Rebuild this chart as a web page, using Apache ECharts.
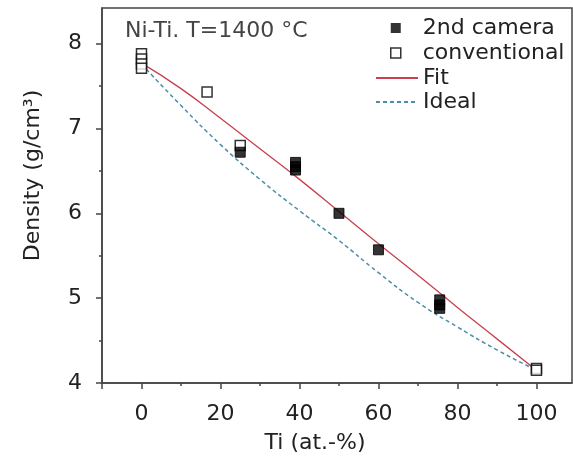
<!DOCTYPE html>
<html><head><meta charset="utf-8">
<script src="https://cdn.jsdelivr.net/npm/echarts@6/dist/echarts.min.js"></script>
<style>html,body{margin:0;padding:0;background:#fff}#c{width:573px;height:463px}</style>
</head><body><div id="c"></div>
<script>
const xTickLabels = [0, 20, 40, 60, 80, 100];
const xMajorTicks = [-10, 0, 20, 40, 60, 80, 100];
const xMinorTicks = [10, 30, 50, 70, 90];
const yTickLabels = [4, 5, 6, 7, 8];
const yMinorTicks = [4.5, 5.5, 6.5, 7.5];

const cameraTi      = [25, 39, 39, 39, 50, 60, 75.5, 75.5, 75.5];
const cameraDensity = [6.72, 6.60, 6.55, 6.51, 6.00, 5.57, 4.98, 4.92, 4.88];

const convTi      = [0, 0, 0, 0, 16.6, 25, 100, 100];
const convDensity = [7.88, 7.82, 7.76, 7.71, 7.43, 6.80, 4.17, 4.15];

const lineTi       = [0, 10, 20, 30, 40, 50, 60, 70, 80, 90, 100];
const fitDensity   = [7.77, 7.47, 7.12, 6.76, 6.40, 6.02, 5.64, 5.27, 4.89, 4.52, 4.15];
const idealDensity = [7.76, 7.27, 6.81, 6.40, 6.03, 5.68, 5.30, 4.95, 4.66, 4.39, 4.15];

const FONT = 'DejaVu Sans';
const pairs = (xs, ys) => xs.map((x, i) => [x, ys[i]]);

const chart = echarts.init(document.getElementById('c'));
chart.setOption({
  animation: false,
  backgroundColor: '#fff',
  title: {
    text: 'Ni-Ti. T=1400 °C',
    left: 120, top: 15,
    textStyle: { fontFamily: FONT, fontSize: 22, fontWeight: 'normal', color: '#444' }
  },
  legend: [{
    data: [
      { name: '2nd camera', itemStyle: { color: '#000', borderColor: '#000', borderWidth: 0 } },
      { name: 'conventional', itemStyle: { color: '#fff', borderColor: '#000', borderWidth: 1.5 } }
    ],
    orient: 'vertical', left: 390, top: 17, padding: 0,
    itemWidth: 10, itemHeight: 10, itemGap: 3,
    textStyle: { fontFamily: FONT, fontSize: 22, color: '#222', lineHeight: 22, padding: [0, 0, 0, 17] }
  }, {
    data: [
      { name: 'Fit', itemStyle: { opacity: 0 } },
      { name: 'Ideal', itemStyle: { opacity: 0 } }
    ],
    orient: 'vertical', left: 375, top: 67, padding: 0,
    itemWidth: 42, itemHeight: 10, itemGap: 2,
    textStyle: { fontFamily: FONT, fontSize: 22, color: '#222', lineHeight: 22 }
  }],
  grid: { left: 102, right: 1, top: 8, bottom: 80, show: true, borderColor: '#444', borderWidth: 1.5 },
  xAxis: [{
    type: 'value', min: -10, max: 109,
    name: 'Ti (at.-%)', nameLocation: 'middle', nameGap: 49,
    nameTextStyle: { fontFamily: FONT, fontSize: 22, color: '#222', padding: [0, 44, 0, 0] },
    axisLine: { onZero: false, lineStyle: { color: '#444', width: 1.5 } },
    axisTick: { customValues: xMajorTicks, length: 6, lineStyle: { color: '#444', width: 1.5 } },
    axisLabel: { customValues: xTickLabels, margin: 20, fontFamily: FONT, fontSize: 22, color: '#222' },
    splitLine: { show: false }
  }, {
    type: 'value', min: -10, max: 109, position: 'bottom',
    axisLine: { show: false, onZero: false },
    axisTick: { customValues: xMinorTicks, length: 3, lineStyle: { color: '#444', width: 1.5 } },
    axisLabel: { show: false },
    splitLine: { show: false }
  }],
  yAxis: [{
    type: 'value', min: 4, max: 8.42,
    name: 'Density (g/cm³)', nameLocation: 'middle', nameGap: 58,
    nameTextStyle: { fontFamily: FONT, fontSize: 22, color: '#222', padding: [0, 0, 0, 40] },
    axisLine: { onZero: false, lineStyle: { color: '#444', width: 1.5 } },
    axisTick: { customValues: yTickLabels, length: 6, lineStyle: { color: '#444', width: 1.5 } },
    axisLabel: { customValues: yTickLabels, margin: 20, fontFamily: FONT, fontSize: 22, color: '#222' },
    splitLine: { show: false }
  }, {
    type: 'value', min: 4, max: 8.42, position: 'left',
    axisLine: { show: false, onZero: false },
    axisTick: { customValues: yMinorTicks, length: 3, lineStyle: { color: '#444', width: 1.5 } },
    axisLabel: { show: false },
    splitLine: { show: false }
  }],
  series: [{
    name: 'Fit', type: 'line', data: pairs(lineTi, fitDensity),
    showSymbol: false, symbol: 'none', smooth: true, z: 2,
    lineStyle: { color: '#c8404e', width: 1.3 }, itemStyle: { color: '#c8404e' }
  }, {
    name: 'Ideal', type: 'line', data: pairs(lineTi, idealDensity),
    showSymbol: false, symbol: 'none', smooth: true, z: 2,
    lineStyle: { color: '#4d8ea6', width: 1.5, type: [4, 3] }, itemStyle: { color: '#4d8ea6' }
  }, {
    name: 'conventional', type: 'scatter', data: pairs(convTi, convDensity),
    symbol: 'rect', symbolSize: 10, z: 3,
    itemStyle: { color: '#fff', borderColor: '#000', borderWidth: 1.5 }
  }, {
    name: '2nd camera', type: 'scatter', data: pairs(cameraTi, cameraDensity),
    symbol: 'rect', symbolSize: 10, z: 4,
    itemStyle: { color: '#000', borderColor: '#000', borderWidth: 1 }
  }]
});
</script></body></html>
